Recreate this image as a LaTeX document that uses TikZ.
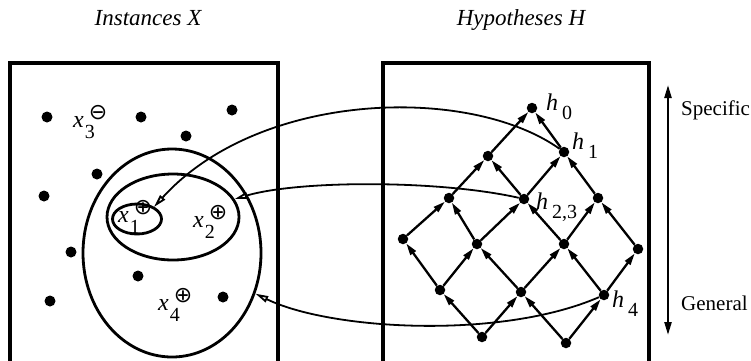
\documentclass[tikz,border=0pt]{standalone}
\usepackage{fontspec}
\setmainfont{Liberation Serif}
\newfontfamily\symfont{DejaVu Sans}
\usetikzlibrary{arrows.meta,shapes.geometric}

% label with subscript, and label with mark above the subscript
\newcommand{\hlab}[2]{\textit{#1}\kern4pt\raisebox{-9pt}{\fontsize{20}{20}\selectfont #2}}
\newcommand{\xlab}[3]{\textit{#1}\kern1pt\raisebox{-11pt}{\fontsize{20}{20}\selectfont\rlap{\kern4pt\raisebox{19pt}{\fontsize{22}{22}\symfont #2}}#3}}

\begin{document}
\begin{tikzpicture}[x=1pt, y=-1pt,
    panel/.style={line width=3.2pt},
    inst/.style={circle, fill, inner sep=0pt, minimum size=11pt},
    hyp/.style={circle, fill, inner sep=0pt, minimum size=10.5pt},
    region/.style={ellipse, draw, line width=2.8pt, inner sep=0pt},
    lat/.style={line width=2.3pt, -{Triangle[length=12pt,width=6.5pt]}},
    maparr/.style={line width=1.8pt, -{Triangle[open,length=13pt,width=6.5pt]}},
    lbl/.style={font=\fontsize{24}{24}\selectfont, inner sep=0pt, anchor=base west},
    title/.style={font=\fontsize{23}{23}\selectfont\itshape, inner sep=0pt, anchor=base},
    axislbl/.style={font=\fontsize{21}{21}\selectfont, inner sep=0pt, anchor=west},
  ]
  \useasboundingbox (0,0) rectangle (751,360);

  % the two panels and their titles
  \draw[panel] (10,63) rectangle (278,372);
  \draw[panel] (383,63) rectangle (649,372);
  \node[title] (tX) at (148,25) {Instances X};
  \node[title] (tH) at (521,25) {Hypotheses H};

  % instances
  \foreach \x/\y [count=\i] in {47/117,141/117,232/110,186/136,97/174,44/196,71/252,138/276,50/301,223/297}
    \node[inst] (p\i) at (\x,\y) {};
  \node[region, minimum width=178pt, minimum height=208pt] (ellA) at (172,253) {};
  \node[region, minimum width=132pt, minimum height=86pt] (ellB) at (173,217) {};
  \node[region, minimum width=49pt, minimum height=30pt] (ellC) at (137,219) {};
  \node[lbl] (x1) at (118,222) {\xlab{x}{⊕}{1}};
  \node[lbl] (x2) at (193,227) {\xlab{x}{⊕}{2}};
  \node[lbl] (x3) at (73,127) {\xlab{x}{⊖}{3}};
  \node[lbl] (x4) at (158,310) {\xlab{x}{⊕}{4}};
  \coordinate (x1tip) at (154,207);

  % hypothesis lattice
  \foreach \n/\x/\y in {h0/532/108, a1/488/156, h1/564/152, b1/449/198, h23/524/199, b3/598/198,
      c1/403/239, c2/477/244, c3/564/244, c4/638/249, d1/440/290, d2/521/292, h4/604/295,
      e1/482/337, e2/566/343}
    \node[hyp] (\n) at (\x,\y) {};
  \foreach \s/\t in {a1/h0, h1/h0, b1/a1, h23/a1, h23/h1, b3/h1, c1/b1, c2/b1, c2/h23, c3/h23,
      c3/b3, c4/b3, d1/c1, d1/c2, d2/c2, d2/c3, h4/c3, h4/c4, e1/d1, e1/d2, e2/d2, e2/h4}
    \draw[lat] (\s) -- (\t);
  \node[lbl] (l0) at (546,110) {\hlab{h}{0}};
  \node[lbl] (l1) at (572,149) {\hlab{h}{1}};
  \node[lbl] (l23) at (536,209) {\hlab{h}{2,3}};
  \node[lbl] (l4) at (612,307) {\hlab{h}{4}};

  % hypotheses mapped to instance sets
  \draw[maparr] (h1) .. controls (470,85) and (260,90) .. (x1tip);
  \draw[maparr] (h23) .. controls (440,180) and (300,180) .. (ellB);
  \draw[maparr] (h4) .. controls (500,340) and (330,330) .. (ellA);

  % specific / general scale
  \coordinate (spec) at (668,85);
  \coordinate (gen) at (668,335);
  \draw[line width=2.2pt, {Triangle[length=13pt,width=7pt]}-{Triangle[length=13pt,width=7pt]}] (spec) -- (gen);
  \node[axislbl] (specific) at (681,110) {Specific};
  \node[axislbl] (general) at (681,303) {General};
\end{tikzpicture}
\end{document}
